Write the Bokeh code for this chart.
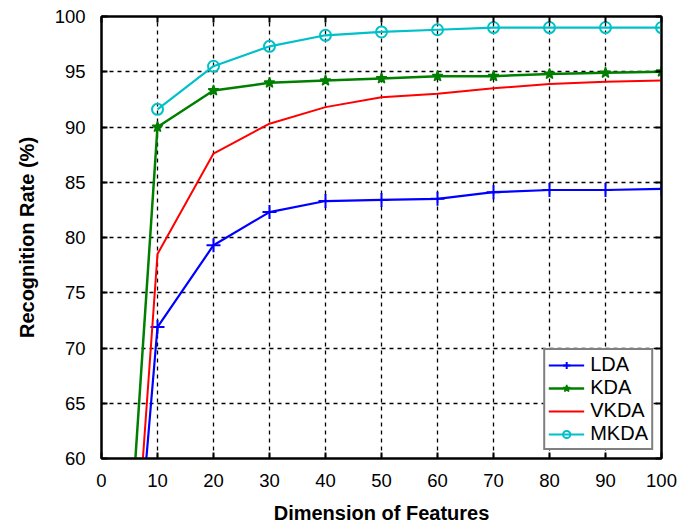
from bokeh.plotting import figure
from bokeh.models import LinearAxis, FixedTicker, Legend, LegendItem, Range1d
from bokeh.embed import file_html
from bokeh.resources import INLINE

# data
dims = [10, 20, 30, 40, 50, 60, 70, 80, 90, 100]
dims_ext = [5, 10, 20, 30, 40, 50, 60, 70, 80, 90, 100]
lda = [42.0, 71.9, 79.3, 82.3, 83.3, 83.4, 83.5, 84.1, 84.3, 84.3, 84.4]
kda = [52.0, 90.0, 93.3, 94.0, 94.2, 94.4, 94.6, 94.6, 94.8, 94.9, 95.0]
vkda = [43.0, 78.5, 87.6, 90.3, 91.8, 92.7, 93.0, 93.5, 93.9, 94.1, 94.2]
mkda = [91.6, 95.5, 97.3, 98.3, 98.6, 98.8, 99.0, 99.0, 99.0, 99.0]
x_ticks = [0, 10, 20, 30, 40, 50, 60, 70, 80, 90, 100]
y_ticks = [60, 65, 70, 75, 80, 85, 90, 95, 100]

FONT = "Liberation Sans"

p = figure(frame_width=560, frame_height=442,
           min_border_left=101, min_border_right=25, min_border_top=16, min_border_bottom=60,
           x_range=Range1d(0, 100), y_range=Range1d(60, 100),
           output_backend="svg", toolbar_location=None)

p.outline_line_color = "black"
p.outline_line_width = 2

def style_axis(ax, ticks, labels=True):
    ax.ticker = FixedTicker(ticks=ticks)
    ax.major_tick_in = 6
    ax.major_tick_out = 0
    ax.minor_tick_in = 0
    ax.minor_tick_out = 0
    ax.major_tick_line_width = 2
    ax.major_tick_line_color = "black"
    ax.axis_line_color = "black"
    ax.axis_line_width = 2
    ax.major_label_text_font = FONT
    ax.major_label_text_font_size = "18.5px"
    ax.major_label_text_color = "black"
    ax.axis_label_text_font = FONT
    ax.axis_label_text_font_size = "20px"
    ax.axis_label_text_font_style = "bold"
    ax.axis_label_text_color = "black"
    if not labels:
        ax.major_label_overrides = {t: "" for t in ticks}
        ax.major_label_standoff = 0

xa = p.xaxis[0]
ya = p.yaxis[0]
style_axis(xa, x_ticks)
style_axis(ya, y_ticks)
xa.axis_label = "Dimension of Features"
ya.axis_label = "Recognition Rate (%)"
xa.major_label_standoff = 15
ya.major_label_standoff = 16
xa.axis_label_standoff = 12
ya.axis_label_standoff = 14

ra = LinearAxis()
ta = LinearAxis()
p.add_layout(ra, "right")
p.add_layout(ta, "above")
style_axis(ra, y_ticks, labels=False)
style_axis(ta, x_ticks, labels=False)

for g in (p.xgrid[0], p.ygrid[0]):
    g.grid_line_color = "black"
    g.grid_line_dash = "4 4"
    g.grid_line_width = 1.3
p.xgrid[0].ticker = FixedTicker(ticks=x_ticks)
p.ygrid[0].ticker = FixedTicker(ticks=y_ticks)

BLUE = "#0000ff"
GREEN = "#007f00"
RED = "#ff0000"
CYAN = "#00c0c8"

l1 = p.line(dims_ext, lda, line_color=BLUE, line_width=2.2)
m1 = p.scatter(dims_ext[1:], lda[1:], marker="cross", size=14, line_color=BLUE, line_width=2)
l2 = p.line(dims_ext, kda, line_color=GREEN, line_width=2.5)
m2 = p.scatter(dims_ext[1:], kda[1:], marker="star", size=11, line_color=GREEN, fill_color=GREEN, line_width=1.5)
l3 = p.line(dims_ext, vkda, line_color=RED, line_width=2)
l4 = p.line(dims, mkda, line_color=CYAN, line_width=2.2)
m4 = p.scatter(dims, mkda, marker="circle", size=11, line_color=CYAN, fill_color="white", fill_alpha=0, line_width=2)

legend = Legend(items=[
    LegendItem(label="LDA", renderers=[l1, m1]),
    LegendItem(label="KDA", renderers=[l2, m2]),
    LegendItem(label="VKDA", renderers=[l3]),
    LegendItem(label="MKDA", renderers=[l4, m4]),
], location="bottom_right")
legend.margin = 8
legend.padding = 3
legend.spacing = -5
legend.glyph_width = 36
legend.glyph_height = 18
legend.label_height = 18
legend.label_standoff = 6
legend.label_text_font = FONT
legend.label_text_font_size = "20px"
legend.label_text_color = "black"
legend.border_line_color = "black"
legend.border_line_width = 2
legend.background_fill_color = "white"
legend.background_fill_alpha = 1
p.add_layout(legend, "center")

open("out.html", "w").write(file_html(p, INLINE))
